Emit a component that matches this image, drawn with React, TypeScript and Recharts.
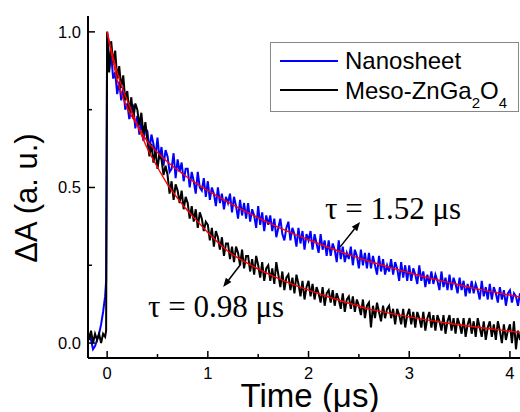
import { LineChart, Line, XAxis, YAxis, ReferenceLine } from 'recharts';

// time axis (µs) of the measured traces
const TIME = [
  -0.18, -0.16, -0.14, -0.12, -0.1, -0.08, -0.06, -0.04, -0.02, -0.01,
  0, 0.02, 0.04, 0.06, 0.08, 0.1, 0.12, 0.14, 0.16, 0.18,
  0.2, 0.22, 0.24, 0.26, 0.28, 0.3, 0.32, 0.34, 0.36, 0.38,
  0.4, 0.42, 0.44, 0.46, 0.48, 0.5, 0.52, 0.54, 0.56, 0.58,
  0.6, 0.62, 0.64, 0.66, 0.68, 0.7, 0.72, 0.74, 0.76, 0.78,
  0.8, 0.82, 0.84, 0.86, 0.88, 0.9, 0.92, 0.94, 0.96, 0.98,
  1, 1.02, 1.04, 1.06, 1.08, 1.1, 1.12, 1.14, 1.16, 1.18,
  1.2, 1.22, 1.24, 1.26, 1.28, 1.3, 1.32, 1.34, 1.36, 1.38,
  1.4, 1.42, 1.44, 1.46, 1.48, 1.5, 1.52, 1.54, 1.56, 1.58,
  1.6, 1.62, 1.64, 1.66, 1.68, 1.7, 1.72, 1.74, 1.76, 1.78,
  1.8, 1.82, 1.84, 1.86, 1.88, 1.9, 1.92, 1.94, 1.96, 1.98,
  2, 2.02, 2.04, 2.06, 2.08, 2.1, 2.12, 2.14, 2.16, 2.18,
  2.2, 2.22, 2.24, 2.26, 2.28, 2.3, 2.32, 2.34, 2.36, 2.38,
  2.4, 2.42, 2.44, 2.46, 2.48, 2.5, 2.52, 2.54, 2.56, 2.58,
  2.6, 2.62, 2.64, 2.66, 2.68, 2.7, 2.72, 2.74, 2.76, 2.78,
  2.8, 2.82, 2.84, 2.86, 2.88, 2.9, 2.92, 2.94, 2.96, 2.98,
  3, 3.02, 3.04, 3.06, 3.08, 3.1, 3.12, 3.14, 3.16, 3.18,
  3.2, 3.22, 3.24, 3.26, 3.28, 3.3, 3.32, 3.34, 3.36, 3.38,
  3.4, 3.42, 3.44, 3.46, 3.48, 3.5, 3.52, 3.54, 3.56, 3.58,
  3.6, 3.62, 3.64, 3.66, 3.68, 3.7, 3.72, 3.74, 3.76, 3.78,
  3.8, 3.82, 3.84, 3.86, 3.88, 3.9, 3.92, 3.94, 3.96, 3.98,
  4, 4.02, 4.04, 4.06, 4.08, 4.1,
];

const NANOSHEET = [
  0.03, 0.01, -0.02, -0.01, 0.01, 0.03, 0.06, 0.1, 0.15, 0.2,
  1.0, 0.88, 0.93, 0.85, 0.87, 0.8, 0.84, 0.78, 0.82, 0.75,
  0.77, 0.72, 0.75, 0.76, 0.69, 0.73, 0.67, 0.71, 0.65, 0.69,
  0.68, 0.62, 0.67, 0.64, 0.6, 0.66, 0.59, 0.63, 0.57, 0.62,
  0.6, 0.55, 0.56, 0.61, 0.53, 0.59, 0.55, 0.58, 0.52, 0.56,
  0.56, 0.5, 0.55, 0.52, 0.48, 0.55, 0.5, 0.49, 0.53, 0.47,
  0.52, 0.46, 0.5, 0.48, 0.44, 0.5, 0.45, 0.48, 0.43, 0.47,
  0.45, 0.48, 0.42, 0.47, 0.44, 0.4, 0.46, 0.41, 0.45, 0.4,
  0.45, 0.39, 0.43, 0.41, 0.37, 0.44, 0.38, 0.42, 0.36, 0.41,
  0.38, 0.41, 0.36, 0.4, 0.34, 0.37, 0.4, 0.35, 0.33, 0.37,
  0.39, 0.33, 0.37, 0.35, 0.31, 0.37, 0.32, 0.36, 0.3, 0.35,
  0.33, 0.36, 0.3, 0.35, 0.32, 0.29, 0.35, 0.3, 0.33, 0.28,
  0.33, 0.28, 0.32, 0.3, 0.26, 0.33, 0.27, 0.31, 0.26, 0.29,
  0.27, 0.31, 0.25, 0.3, 0.28, 0.24, 0.3, 0.25, 0.29, 0.24,
  0.29, 0.24, 0.28, 0.25, 0.22, 0.28, 0.23, 0.27, 0.22, 0.25,
  0.23, 0.27, 0.22, 0.26, 0.24, 0.2, 0.26, 0.21, 0.25, 0.2,
  0.25, 0.2, 0.24, 0.22, 0.19, 0.25, 0.2, 0.23, 0.18, 0.22,
  0.19, 0.23, 0.19, 0.22, 0.2, 0.17, 0.23, 0.18, 0.21, 0.17,
  0.22, 0.17, 0.21, 0.19, 0.16, 0.21, 0.17, 0.2, 0.15, 0.19,
  0.16, 0.2, 0.16, 0.19, 0.17, 0.14, 0.2, 0.15, 0.18, 0.14,
  0.19, 0.14, 0.18, 0.16, 0.13, 0.18, 0.14, 0.17, 0.12, 0.16,
  0.17, 0.13, 0.16, 0.15, 0.12, 0.16,
];

const MESO = [
  0.01, 0.04, 0.0, 0.03, 0.01, 0.03, 0.0, 0.03, 0.02, 0.04,
  1.0, 0.87, 0.97, 0.9, 0.94, 0.85, 0.89, 0.82, 0.86, 0.78,
  0.81, 0.74, 0.79, 0.72, 0.77, 0.75, 0.7, 0.74, 0.67, 0.71,
  0.65, 0.6, 0.64, 0.58, 0.62, 0.56, 0.61, 0.59, 0.54, 0.57,
  0.54, 0.48, 0.52, 0.46, 0.51, 0.49, 0.45, 0.49, 0.43, 0.47,
  0.45, 0.4, 0.44, 0.39, 0.43, 0.37, 0.42, 0.4, 0.36, 0.39,
  0.38, 0.33, 0.37, 0.31, 0.36, 0.34, 0.3, 0.34, 0.28, 0.32,
  0.32, 0.27, 0.31, 0.26, 0.31, 0.29, 0.25, 0.3, 0.24, 0.28,
  0.28, 0.23, 0.27, 0.22, 0.28, 0.25, 0.21, 0.26, 0.2, 0.24,
  0.25, 0.2, 0.24, 0.19, 0.26, 0.22, 0.18, 0.23, 0.17, 0.21,
  0.22, 0.17, 0.21, 0.16, 0.22, 0.19, 0.15, 0.2, 0.14, 0.18,
  0.2, 0.15, 0.19, 0.14, 0.18, 0.16, 0.13, 0.18, 0.12, 0.16,
  0.17, 0.13, 0.17, 0.12, 0.16, 0.14, 0.11, 0.16, 0.1, 0.14,
  0.15, 0.11, 0.15, 0.1, 0.14, 0.12, 0.09, 0.14, 0.08, 0.12,
  0.13, 0.05, 0.12, 0.08, 0.13, 0.1, 0.07, 0.12, 0.08, 0.11,
  0.12, 0.08, 0.11, 0.06, 0.11, 0.09, 0.06, 0.11, 0.05, 0.09,
  0.11, 0.06, 0.1, 0.05, 0.1, 0.08, 0.05, 0.1, 0.04, 0.08,
  0.1, 0.05, 0.09, 0.04, 0.09, 0.07, 0.04, 0.09, 0.03, 0.07,
  0.09, 0.04, 0.08, 0.03, 0.08, 0.06, 0.03, 0.08, 0.02, 0.06,
  0.08, 0.03, 0.07, 0.02, 0.08, 0.05, 0.02, 0.07, 0.01, 0.05,
  0.07, 0.02, 0.06, 0.01, 0.07, 0.04, 0.0, 0.06, 0.01, 0.04,
  0.06, 0.0, 0.07, -0.02, 0.04, 0.01,
];

// exponential fits (red)
const FIT_TIME = [0, 0.05, 0.1, 0.15, 0.2, 0.3, 0.4, 0.5, 0.6, 0.7, 0.8, 0.9, 1, 1.2, 1.4, 1.6, 1.8, 2, 2.2, 2.4, 2.6, 2.8, 3, 3.2, 3.4, 3.6, 3.8, 4, 4.1];
const NANOSHEET_FIT = [1.0, 0.92, 0.845, 0.795, 0.755, 0.7, 0.648, 0.612, 0.582, 0.556, 0.532, 0.51, 0.49, 0.453, 0.419, 0.387, 0.358, 0.332, 0.307, 0.284, 0.263, 0.244, 0.226, 0.209, 0.194, 0.179, 0.166, 0.154, 0.148];
const MESO_FIT = [1.0, 0.93, 0.87, 0.82, 0.78, 0.7, 0.625, 0.565, 0.51, 0.465, 0.425, 0.39, 0.355, 0.295, 0.255, 0.222, 0.194, 0.17, 0.148, 0.128, 0.11, 0.096, 0.084, 0.073, 0.063, 0.054, 0.046, 0.038, 0.034];

const X_TICKS = [0, 0.5, 1, 1.5, 2, 2.5, 3, 3.5, 4];
const Y_TICKS = [0, 0.25, 0.5, 0.75, 1];
const X_DOMAIN = [-0.19, 4.1];
const Y_DOMAIN = [-0.048, 1.051];

// annotation arrows: [tail on curve, head near label]
const ARROW_NANO = [{ x: 2.314, y: 0.309 }, { x: 2.512, y: 0.389 }];
const ARROW_MESO = [{ x: 1.321, y: 0.251 }, { x: 1.152, y: 0.18 }];

const raw = TIME.map((t, i) => ({ t, nano: NANOSHEET[i], meso: MESO[i] }));
const fit = FIT_TIME.map((t, i) => ({ t, nano: NANOSHEET_FIT[i], meso: MESO_FIT[i] }));

const SANS = '"Liberation Sans", Arial, sans-serif';
const SERIF = '"Liberation Serif", "Times New Roman", serif';

const XTick = ({ x, y, payload }: any) => {
  const major = Number.isInteger(payload.value);
  return (
    <g>
      <line x1={x} y1={y} x2={x} y2={y - (major ? 7 : 4)} stroke="#000" strokeWidth={1.5} />
      {major && (
        <text x={x} y={y + 21} textAnchor="middle" fontSize={16.5} fontFamily={SANS} fill="#000">
          {payload.value}
        </text>
      )}
    </g>
  );
};

const YTick = ({ x, y, payload }: any) => {
  const major = Number.isInteger(payload.value * 2);
  return (
    <g>
      <line x1={x} y1={y} x2={x + (major ? 7 : 4)} y2={y} stroke="#000" strokeWidth={1.5} />
      {major && (
        <text x={x - 7} y={y + 6} textAnchor="end" fontSize={16.5} fontFamily={SANS} fill="#000">
          {payload.value.toFixed(1)}
        </text>
      )}
    </g>
  );
};

const Arrow = (p: any) => {
  const { x1, y1, x2, y2 } = p;
  const a = Math.atan2(y2 - y1, x2 - x1);
  const len = 9;
  const w = 3.5;
  const bx = x2 - len * Math.cos(a);
  const by = y2 - len * Math.sin(a);
  const pts = `${x2},${y2} ${bx - w * Math.sin(a)},${by + w * Math.cos(a)} ${bx + w * Math.sin(a)},${by - w * Math.cos(a)}`;
  return (
    <g>
      <line x1={x1} y1={y1} x2={bx} y2={by} stroke="#000" strokeWidth={1.5} />
      <polygon points={pts} fill="#000" />
    </g>
  );
};

export default function App() {
  return (
    <div style={{ position: 'absolute', left: 0, top: 0, width: 520, height: 412, overflow: 'hidden', background: '#fff' }}>
      <LineChart width={520} height={412} margin={{ top: 16, right: 0, bottom: 0, left: 0 }}>
        <XAxis
          dataKey="t"
          type="number"
          domain={X_DOMAIN}
          allowDataOverflow
          ticks={X_TICKS}
          interval={0}
          height={54}
          tickSize={0}
          tickMargin={0}
          tickLine={false}
          axisLine={{ stroke: '#000', strokeWidth: 2 }}
          tick={(p: any) => <XTick {...p} />}
        />
        <XAxis
          xAxisId="top"
          orientation="top"
          dataKey="t"
          type="number"
          domain={X_DOMAIN}
          allowDataOverflow
          height={0}
          tick={false}
          tickLine={false}
          axisLine={{ stroke: '#000', strokeWidth: 2 }}
        />
        <YAxis
          type="number"
          domain={Y_DOMAIN}
          allowDataOverflow
          ticks={Y_TICKS}
          interval={0}
          width={88}
          tickSize={0}
          tickMargin={0}
          tickLine={false}
          axisLine={{ stroke: '#000', strokeWidth: 2 }}
          tick={(p: any) => <YTick {...p} />}
        />
        <Line data={raw} dataKey="nano" type="linear" stroke="#0000ff" strokeWidth={2} dot={false} isAnimationActive={false} />
        <Line data={raw} dataKey="meso" type="linear" stroke="#000000" strokeWidth={2} dot={false} isAnimationActive={false} />
        <Line data={fit} dataKey="nano" type="monotone" stroke="#ff0000" strokeWidth={1.4} dot={false} isAnimationActive={false} />
        <Line data={fit} dataKey="meso" type="monotone" stroke="#ff0000" strokeWidth={1.4} dot={false} isAnimationActive={false} />
        <ReferenceLine segment={ARROW_NANO} shape={Arrow} />
        <ReferenceLine segment={ARROW_MESO} shape={Arrow} />
      </LineChart>

      <svg width={520} height={412} style={{ position: 'absolute', left: 0, top: 0, pointerEvents: 'none' }}>
        <text transform="translate(37,198) rotate(-90)" textAnchor="middle" fontSize={31} fontFamily={SANS} fill="#000">
          ΔA (a. u.)
        </text>
        <text x={310} y={407} textAnchor="middle" fontSize={33} fontFamily={SANS} fill="#000">
          Time (μs)
        </text>
        <text x={325} y={219} fontSize={31} fontFamily={SERIF} fill="#000">τ = 1.52 μs</text>
        <text x={148} y={317} fontSize={31} fontFamily={SERIF} fill="#000">τ = 0.98 μs</text>

        <rect x={270.5} y={42.5} width={248} height={69} fill="#fff" stroke="#888" strokeWidth={1} />
        <line x1={280} y1={61} x2={338} y2={61} stroke="#0000ff" strokeWidth={2} />
        <line x1={280} y1={90} x2={338} y2={90} stroke="#000" strokeWidth={2} />
        <text x={345} y={69} fontSize={24} fontFamily={SANS} fill="#000">Nanosheet</text>
        <text x={345} y={99} fontSize={24} fontFamily={SANS} fill="#000">
          Meso-ZnGa<tspan fontSize={15} dy={9}>2</tspan><tspan dy={-9}>O</tspan><tspan fontSize={15} dy={9}>4</tspan>
        </text>
      </svg>
    </div>
  );
}
